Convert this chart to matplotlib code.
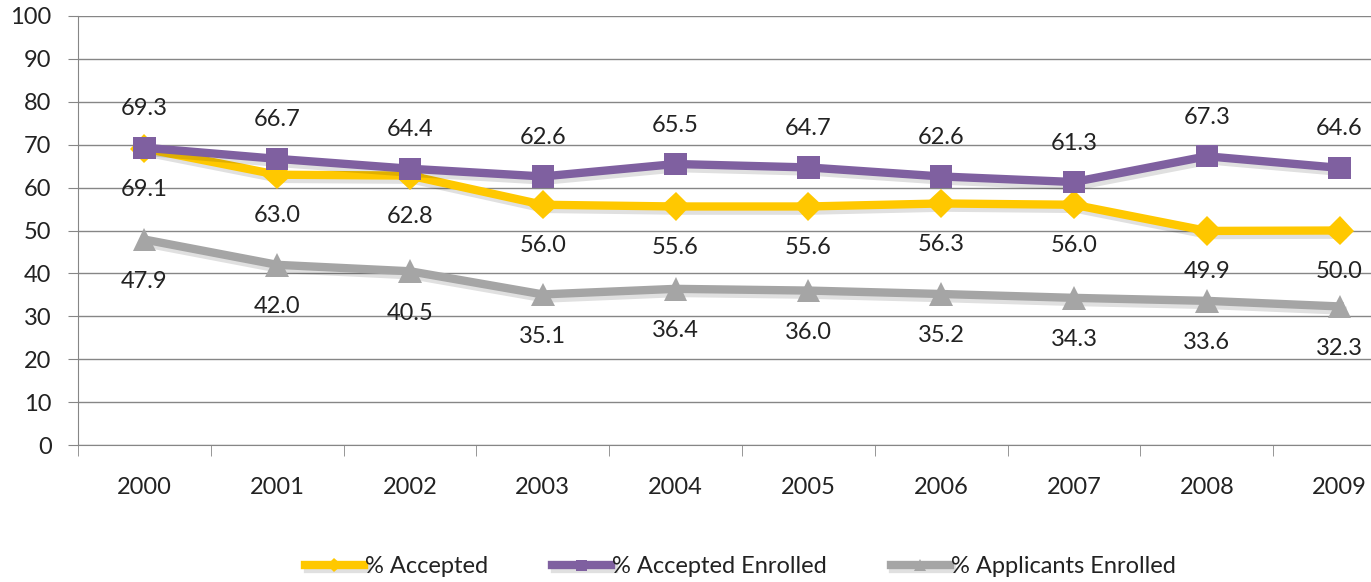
import numpy as np
import matplotlib.pyplot as plt
import matplotlib.patheffects as pe

years = ['2000', '2001', '2002', '2003', '2004', '2005', '2006', '2007', '2008', '2009']
accepted = [69.1, 63.0, 62.8, 56.0, 55.6, 55.6, 56.3, 56.0, 49.9, 50.0]
accepted_enrolled = [69.3, 66.7, 64.4, 62.6, 65.5, 64.7, 62.6, 61.3, 67.3, 64.6]
applicants_enrolled = [47.9, 42.0, 40.5, 35.1, 36.4, 36.0, 35.2, 34.3, 33.6, 32.3]

plt.rcParams['font.family'] = ['Lato', 'DejaVu Sans']

fig = plt.figure(figsize=(13.71, 5.82), dpi=100)
ax = fig.add_axes([78 / 1371, 137 / 582, 1328 / 1371, 429 / 582])

x = np.arange(len(years))
shadow = [pe.SimpleLineShadow(offset=(2, -3), shadow_color='black', alpha=0.12), pe.Normal()]

series = [
    (accepted, '% Accepted', '#FFC800', 'D', 15, -41),
    (accepted_enrolled, '% Accepted Enrolled', '#7F60A0', 's', 16, 39),
    (applicants_enrolled, '% Applicants Enrolled', '#A5A5A5', '^', 17, -42),
]

for vals, name, col, mk, ms, off in series:
    ax.plot(x, vals, color=col, lw=6, marker=mk, markersize=ms,
            markeredgewidth=0, label=name, path_effects=shadow, zorder=3)
    for xi, v in zip(x, vals):
        ax.annotate(f'{v:.1f}', (xi, v), xytext=(0, off), textcoords='offset pixels',
                    ha='center', va='center', fontsize=17, color='#222222')

ax.set_xlim(-0.5, 9.5)
ax.set_ylim(0, 100)
ax.set_yticks(np.arange(0, 101, 10))
ax.tick_params(axis='y', labelsize=17, length=7, color='#868686', pad=12, labelcolor='#222222')
ax.set_xticks(x)
ax.set_xticklabels(years)
ax.set_xticks(np.arange(-0.5, 10, 1), minor=True)
ax.tick_params(axis='x', which='major', length=0, labelsize=17, pad=23, labelcolor='#222222')
ax.tick_params(axis='x', which='minor', length=8, color='#868686')
ax.grid(axis='y', color='#868686', lw=1)
ax.set_axisbelow(True)
for s in ['top', 'right']:
    ax.spines[s].set_visible(False)
for s in ['left', 'bottom']:
    ax.spines[s].set_color('#868686')

fig.legend(loc='center', bbox_to_anchor=(0.54, 0.026), ncol=3, frameon=False,
           fontsize=17, handlelength=2.5, columnspacing=2.7, handletextpad=0.05,
           markerscale=0.5, labelcolor='#222222')

fig.savefig('out.png', dpi=100)
